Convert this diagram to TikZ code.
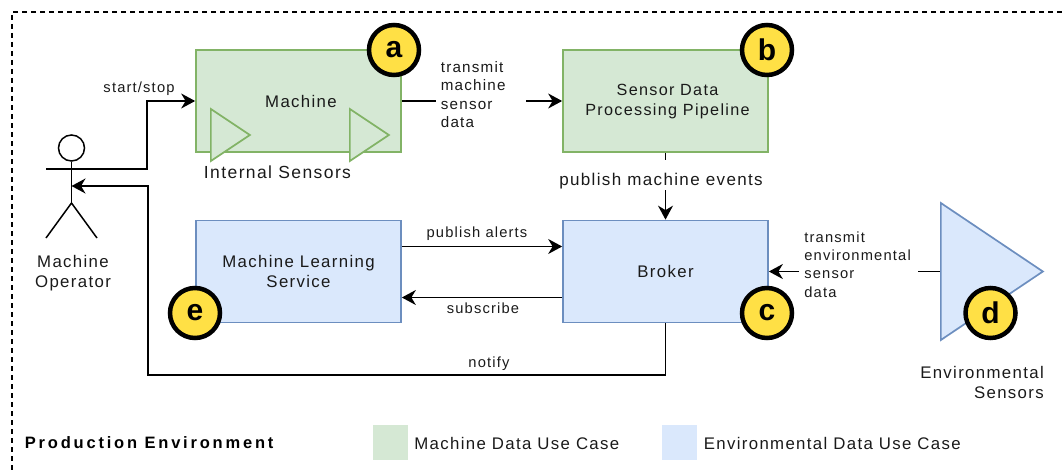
\documentclass[tikz,border=0pt]{standalone}
\usepackage{fontspec}
\setmainfont{Liberation Sans}[LetterSpace=8]
\usetikzlibrary{arrows.meta, shapes.geometric}
\definecolor{greenfill}{HTML}{D5E8D4}
\definecolor{greenline}{HTML}{82B366}
\definecolor{bluefill}{HTML}{DAE8FC}
\definecolor{blueline}{HTML}{6C8EBF}
\definecolor{badgefill}{HTML}{FFE045}
\definecolor{inktext}{HTML}{1A1A1A}
\tikzset{
  big/.style={font=\fontsize{16.8}{20.5}\selectfont, text=inktext, inner sep=0pt, align=center},
  box/.style={big, draw, line width=1.7pt, minimum width=205pt, minimum height=102pt},
  greenbox/.style={box, fill=greenfill, draw=greenline},
  bluebox/.style={box, fill=bluefill, draw=blueline},
  badge/.style={circle, draw=black, line width=4.5pt, fill=badgefill, minimum size=50pt, inner sep=0pt,
    text=black, font=\fontsize{30}{30}\selectfont\bfseries},
  sensor/.style={isosceles triangle, isosceles triangle stretches, shape border rotate=0, draw, inner sep=0pt, line width=1.7pt, anchor=lower side},
  smallsensor/.style={sensor, draw=greenline, fill=greenfill, minimum width=52pt, minimum height=39pt},
  lbl/.style={font=\fontsize{14.7}{18.3}\selectfont, text=inktext, inner sep=0pt, align=center},
  swatch/.style={minimum width=35pt, minimum height=35pt, inner sep=0pt},
}
\begin{document}
\begin{tikzpicture}[x=1pt,y=-1pt,->,>={Stealth[length=14pt,width=15pt,inset=4.5pt]},line width=1.7pt]
  \useasboundingbox (0,0) rectangle (1062,471);
  % frame is open on two sides
  \draw[-, line width=1.5pt, dash pattern=on 5pt off 4pt] (1062,12) -- (12,12) -- (12,471);

  \node[greenbox] (machine) at (298.5,101) {};
  \node[big] (machinetxt) at (301,101) {Machine};
  \node[greenbox] (pipeline) at (665.5,101) {};
  \node[big, font=\fontsize{16.2}{20}\selectfont] (pipelinetxt) at (667.5,102) {Sensor Data\hspace{5pt}\\Processing Pipeline};
  \node[bluebox] (mlservice) at (298.5,271.5) {Machine Learning\\Service};
  \node[bluebox] (broker) at (665.5,271.5) {Broker};

  \node[smallsensor] (sensorl) at (210,135) {};
  \node[smallsensor] (sensorr) at (349,135) {};
  \node[sensor, draw=blueline, fill=bluefill, minimum width=137pt, minimum height=102pt] (envsensor) at (940,271.5) {};

  % actor
  \node[circle, draw, line width=1.5pt, minimum size=26pt, inner sep=0pt] (head) at (71.5,148) {};
  \coordinate (armL) at (46,169);
  \coordinate (armR) at (97,169);
  \coordinate (body) at (71.5,186);
  \coordinate (hip) at (71.5,203);
  \draw[-, line width=1.5pt] (head.south) -- (hip);
  \draw[-] (armL) -- (armR);
  \draw[-, line width=1.5pt] (46,238) -- (hip) -- (97,238);
  \node[big] (operator) at (73,273) {Machine\\Operator};

  \node[lbl] (startstop) at (139,89) {start/stop};
  \node[big, font=\fontsize{17.5}{20}\selectfont] (internal) at (277.5,172) {Internal Sensors};
  \node[lbl, font=\fontsize{15.2}{18.3}\selectfont, align=left, anchor=west] (txmachine) at (440,94.5) {transmit\\machine\\sensor\\data};
  \node[big, font=\fontsize{17}{20}\selectfont] (pubevents) at (661,181) {publish machine events};
  \node[lbl] (pubalerts) at (477,234) {publish alerts};
  \node[lbl] (subscr) at (483,308) {subscribe};
  \node[lbl] (notify) at (489,364) {notify};
  \node[lbl, align=left, anchor=west] (txenv) at (803.5,264.5) {transmit\\environmental\\sensor\\data};
  \node[big, align=right] (envtxt) at (982,382.5) {Environmental\\Sensors\hspace{7pt}};

  \draw (armR) -| (147,101) -- (machine.west);
  \draw[-] (machine.east) -- (436,101);
  \draw (526,101) -- (pipeline.west);
  \draw[-] (pipeline.south) -- ++(0,7);
  \draw (665.5,190) -- (broker.north);
  \draw ([yshift=25pt]mlservice.east) -- ([yshift=25pt]broker.west);
  \draw ([yshift=-26pt]broker.west) -- ([yshift=-26pt]mlservice.east);
  \draw (broker.south) |- (148,375) |- (body);
  \draw (799,271.5) -- (broker.east);
  \draw[-] (918,271.5) -- (envsensor.lower side);

  \node[badge] (a) at (394,50) {a};
  \node[badge] (b) at (767,50) {b};
  \node[badge] (c) at (767,313) {c};
  \node[badge] (d) at (990.5,313) {d};
  \node[badge] (e) at (195,313) {e};

  \node[font=\fontsize{16.5}{16.5}\selectfont\bfseries\addfontfeature{LetterSpace=17}, anchor=west, inner sep=0pt] (prodenv) at (24,443) {Production Environment};
  \node[swatch, fill=greenfill] (swmachine) at (390,442.5) {};
  \node[big, anchor=west] (txtmachine) at (413.5,443) {Machine Data Use Case};
  \node[swatch, fill=bluefill] (swenv) at (679.5,442.5) {};
  \node[big, anchor=west] (txtenv) at (703,443) {Environmental Data Use Case};
\end{tikzpicture}
\end{document}
